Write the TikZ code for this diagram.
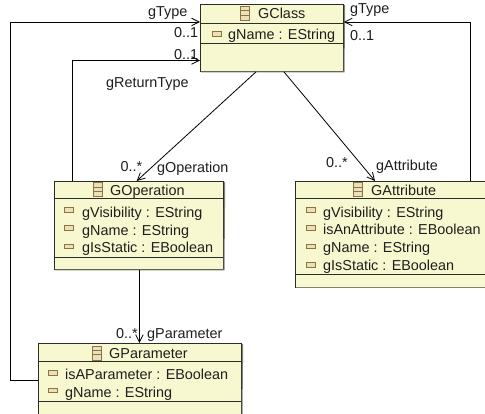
\documentclass[tikz,border=0pt]{standalone}
\usepackage{fontspec}
\setmainfont{Liberation Sans}
\usetikzlibrary{arrows.meta}
\definecolor{boxfill}{RGB}{248,248,208}
\definecolor{boxline}{RGB}{45,45,40}
\definecolor{shade}{RGB}{130,130,115}
\definecolor{iconedge}{RGB}{140,115,70}
\definecolor{iconfill}{RGB}{235,225,185}
\definecolor{txt}{RGB}{30,30,30}
\tikzset{
  classbox/.style={draw=boxline,fill=boxfill,line width=0.9pt,inner sep=0pt,anchor=north west},
  rule/.style={draw=boxline,line width=0.9pt},
  edgeshade/.style={draw=shade,line width=1pt},
  conn/.style={draw=black,line width=0.8pt},
  assoc/.style={conn,-{Straight Barb[length=7.5pt,width=7.5pt,line width=0.8pt]}},
  lbl/.style={font=\fontsize{14.4}{14.4}\selectfont,text=txt,inner sep=0pt,anchor=base west},
  attrib/.style={lbl},
  title/.style={lbl},
  attricon/.style={draw=iconedge,fill=iconfill,line width=1pt,minimum width=9pt,minimum height=4.5pt,inner sep=0pt},
  clsicon/.style={draw=iconedge,fill=iconfill,line width=1pt,minimum width=9pt,minimum height=14pt,inner sep=0pt},
}
\newcommand{\clsglyph}[2]{%
  \node[clsicon] (#1) at (#2) {};
  \draw[iconedge,line width=0.8pt] ([yshift=-4.7pt]#1.north west) -- ([yshift=-4.7pt]#1.north east);
  \draw[iconedge,line width=0.8pt] ([yshift=-9.3pt]#1.north west) -- ([yshift=-9.3pt]#1.north east);
}
\begin{document}
\begin{tikzpicture}[x=1pt,y=-1pt]
\useasboundingbox (0,0) rectangle (485,414);
\fill[white] (0,0) rectangle (485,414);

% boxes
\node[classbox,minimum width=143pt,minimum height=67pt] (gclass) at (200,4) {};
\node[classbox,minimum width=169pt,minimum height=88pt] (goperation) at (54,181) {};
\node[classbox,minimum width=192pt,minimum height=106pt] (gattribute) at (295,181) {};
\node[classbox,minimum width=203pt,minimum height=80pt] (gparameter) at (38,343) {};

% soft lower and right edges
\draw[edgeshade] (gclass.north east) ++(0.8,1) -- (344,72) -- (201,72);
\draw[edgeshade] (goperation.north east) ++(0.8,1) -- (224,270) -- (55,270);
\draw[edgeshade] (296,288) -- (485,288);
\draw[edgeshade] (gparameter.north east) ++(0.8,1) -- (242,414);

% compartment rules
\draw[rule] (200,23) -- (343,23);
\draw[rule] (200,43) -- (343,43);
\draw[rule] (54,198) -- (223,198);
\draw[rule] (54,257) -- (223,257);
\draw[rule] (295,198) -- (485,198);
\draw[rule] (295,274) -- (485,274);
\draw[rule] (38,361) -- (241,361);
\draw[rule] (38,401) -- (241,401);

% GClass
\clsglyph{icA}{245,13.7}
\node[title] (tA) at (258,19) {GClass};
\node[attricon] (aA) at (216.7,34) {};
\node[attrib] (xA) at (228,39.5) {gName : EString};

% GOperation
\clsglyph{icB}{98,190}
\node[title] (tB) at (110,196) {GOperation};
\node[attricon] (aB1) at (69,210) {};
\node[attrib] (xB1) at (82,217.5) {gVisibility : EString};
\node[attricon] (aB2) at (69,228) {};
\node[attrib] (xB2) at (82,235.5) {gName : EString};
\node[attricon] (aB3) at (69,246.5) {};
\node[attrib] (xB3) at (82,253) {gIsStatic : EBoolean};

% GAttribute
\clsglyph{icC}{358,190}
\node[title] (tC) at (371,196) {GAttribute};
\node[attricon] (aC1) at (310.7,210) {};
\node[attrib] (xC1) at (323,217.5) {gVisibility : EString};
\node[attricon] (aC2) at (310.7,228) {};
\node[attrib] (xC2) at (323,235) {isAnAttribute : EBoolean};
\node[attricon] (aC3) at (310.7,246.7) {};
\node[attrib] (xC3) at (323,253) {gName : EString};
\node[attricon] (aC4) at (310.7,265) {};
\node[attrib] (xC4) at (323,271) {gIsStatic : EBoolean};

% GParameter
\clsglyph{icD}{97,353}
\node[title] (tD) at (109,359) {GParameter};
\node[attricon] (aD1) at (52.7,373) {};
\node[attrib] (xD1) at (65,379.5) {isAParameter : EBoolean};
\node[attricon] (aD2) at (52.7,390.5) {};
\node[attrib] (xD2) at (65,397) {gName : EString};

% connectors
\coordinate (gclassW1) at (gclass.north west |- 0,22);
\coordinate (gclassW2) at (gclass.north west |- 0,60.5);
\coordinate (gclassE1) at (gclass.north east |- 0,22);
\draw[assoc] (gparameter.north west |- 0,380.7) -- (10.7,380.7) -- (10.7,22) -- (gclassW1);
\draw[assoc] (goperation.north west -| 72.7,0) -- (72.7,60.5) -- (gclassW2);
\draw[assoc] (gattribute.north west -| 470,0) -- (470,22) -- (gclassE1);
\draw[assoc] (gclass.south west -| 256,0) -- (goperation.north west -| 136.7,0);
\draw[assoc] (gclass.south west -| 284,0) -- (gattribute.north west -| 375,0);
\draw[assoc] (goperation.south west -| 139.4,0) -- (gparameter.north west -| 139.4,0);

% association labels
\node[lbl] (l1) at (148,17) {gType};
\node[lbl] (l2) at (174,38) {0..1};
\node[lbl] (l3) at (174,60) {0..1};
\node[lbl] (l4) at (106,88) {gReturnType};
\node[lbl] (l5) at (350,14) {gType};
\node[lbl] (l6) at (350,41) {0..1};
\node[lbl] (l7) at (120.5,172) {0..*};
\node[lbl] (l8) at (157,173) {gOperation};
\node[lbl] (l9) at (326,168) {0..*};
\node[lbl] (l10) at (376,171) {gAttribute};
\node[lbl] (l11) at (116,338) {0..*};
\node[lbl] (l12) at (147,338) {gParameter};
\end{tikzpicture}
\end{document}
